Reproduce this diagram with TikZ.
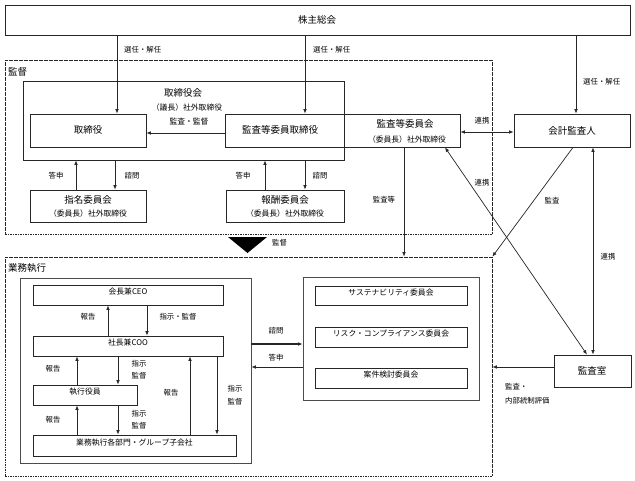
\documentclass[tikz,border=0pt]{standalone}
\usepackage{fontspec}
\setmainfont{Noto Sans CJK JP}
\usetikzlibrary{arrows.meta,fit}
\begin{document}
\begin{tikzpicture}[x=1pt,y=-1pt,
  box/.style={draw=black!85,line width=0.8pt,inner sep=0pt},
  dbox/.style={draw=black!85,line width=0.7pt,dash pattern=on 1.6pt off 0.9pt,inner sep=0pt},
  arr/.style={draw=black!85,line width=0.7pt,-{Latex[length=4.5pt,width=3.6pt]}},
  darr/.style={draw=black!85,line width=0.7pt,{Latex[length=4.5pt,width=3.6pt]}-{Latex[length=4.5pt,width=3.6pt]}},
  tl/.style={font=\fontsize{9.5}{11}\selectfont,inner sep=0pt},
  tm/.style={font=\fontsize{7.8}{9}\selectfont,inner sep=0pt},
  ts/.style={font=\fontsize{7.4}{8}\selectfont,inner sep=0pt},
]
\useasboundingbox[fill=white] (0,0) rectangle (635,480);

% dashed regions
\node[dbox,fit={(5,60) (492,234)}] (kantoku) {};
\node[tl,anchor=west] (kantokuL) at (8,72) {監督};
\node[dbox,fit={(5,257) (492,476)}] (gym) {};
\node[tl,anchor=west] (gymL) at (8,268) {業務執行};

% top
\node[box,fit={(5,5) (630,35)},tl] (sh) {};
\node[tl] (shT) at (317,20) {株主総会};

% board
\node[box,fit={(23,81) (344,160)}] (tbk) {};
\node[tl] (tbkT1) at (183,93) {取締役会};
\node[tm] (tbkT2) at (187,108) {（議長）社外取締役};
\node[tm] (tbkT3) at (189,122) {監査・監督};

\node[box,fit={(30,114) (146,147)}] (tsy) {};
\node[tl] (tsyT) at (88,130) {取締役};
\node[box,fit={(225,114) (344,147)}] (ktt) {};
\node[tl] (kttT) at (280,130) {監査等委員取締役};
\node[box,fit={(344,114) (460,147)}] (kti) {};
\node[tl] (ktiT1) at (405,124) {監査等委員会};
\node[tm] (ktiT2) at (407,140) {（委員長）社外取締役};
\node[box,fit={(514,114) (630,147)}] (kks) {};
\node[tl] (kksT) at (572,131) {会計監査人};

\node[box,fit={(30,190) (146,222)}] (sm) {};
\node[tl] (smT1) at (88,200) {指名委員会};
\node[tm] (smT2) at (88,214) {（委員長）社外取締役};
\node[box,fit={(226,190) (344,222)}] (hs) {};
\node[tl] (hsT1) at (285,200) {報酬委員会};
\node[tm] (hsT2) at (285,214) {（委員長）社外取締役};

% 監査室
\node[box,fit={(554,355) (631,387)}] (ksh) {};
\node[tl] (kshT) at (592,371) {監査室};

% triangle
\fill[black] (228,237) -- (267,237) -- (247.5,253) -- cycle;
\node[ts,anchor=west] (triL) at (272,243) {監督};

% 業務執行 inner
\node[box,draw=black!70,fit={(20,278) (251,463)}] (inL) {};
\node[box,fit={(33,285) (223,305)},tm] (ceo) {会長兼CEO};
\node[box,fit={(33,336) (223,356)},tm] (coo) {社長兼COO};
\node[box,fit={(33,385) (137,405)},tm] (sy) {執行役員};
\node[box,fit={(33,435) (236,456)},tm] (bm) {業務執行各部門・グループ子会社};

\node[box,draw=black!70,fit={(303,277) (479,400)}] (inR) {};
\node[box,fit={(315,286) (467,305)},tm] (c1) {サステナビリティ委員会};
\node[box,fit={(315,327) (467,347)},tm] (c2) {リスク・コンプライアンス委員会};
\node[box,fit={(315,368) (467,388)},tm] (c3) {案件検討委員会};

% arrows from 株主総会
\draw[arr] (117,0 |- sh.south) -- (117,0 |- tsy.north);
\draw[arr] (305,0 |- sh.south) -- (305,0 |- ktt.north);
\draw[arr] (576,0 |- sh.south) -- (576,0 |- kks.north);
\node[ts,anchor=west] (l1) at (124,50) {選任・解任};
\node[ts,anchor=west] (l2) at (313,50) {選任・解任};
\node[ts,anchor=west] (l3) at (583,82) {選任・解任};

% board internal
\draw[arr] (ktt.west |- 0,133) -- (tsy.east |- 0,133);
\draw[arr] (76,0 |- sm.north) -- (76,0 |- tbk.south);
\draw[arr] (115,0 |- tbk.south) -- (115,0 |- sm.north);
\node[ts] (a1) at (56,176) {答申};
\node[ts] (a2) at (132,176) {諮問};
\draw[arr] (265,0 |- hs.north) -- (265,0 |- tbk.south);
\draw[arr] (305,0 |- tbk.south) -- (305,0 |- hs.north);
\node[ts] (a3) at (243,176) {答申};
\node[ts] (a4) at (320,176) {諮問};

% right side
\draw[darr] (kti.east |- 0,132) -- (kks.west |- 0,132);
\node[ts] (r1) at (482,121) {連携};
\draw[arr] (404,0 |- kti.south) -- (404,0 |- gym.north);
\node[ts] (r2) at (384,200) {監査等};
\draw[darr] (445,0 |- kti.south) -- (587,0 |- ksh.north);
\node[ts] (r3) at (482,183) {連携};
\draw[arr] (573,0 |- kks.south) -- (gym.north east);
\node[ts] (r4) at (552,201) {監査};
\draw[darr] (593,0 |- kks.south) -- (593,0 |- ksh.north);
\node[ts] (r5) at (608,257) {連携};
\draw[arr] (ksh.west |- 0,367) -- (gym.east |- 0,367);
\node[ts,anchor=west] (r6) at (505,387) {監査・};
\node[ts,anchor=west] (r7) at (505,401) {内部統制評価};

% 業務執行 arrows
\draw[arr] (108,0 |- coo.north) -- (108,0 |- ceo.south);
\draw[arr] (147,0 |- ceo.south) -- (147,0 |- coo.north);
\node[ts] (e1) at (88,317) {報告};
\node[ts] (e2) at (178,317) {指示・監督};
\draw[arr] (77,0 |- sy.north) -- (77,0 |- coo.south);
\draw[arr] (118,0 |- coo.south) -- (118,0 |- sy.north);
\node[ts] (e3) at (53,369) {報告};
\node[ts] (e4) at (139,364) {指示};
\node[ts] (e5) at (139,376) {監督};
\draw[arr] (77,0 |- bm.north) -- (77,0 |- sy.south);
\draw[arr] (118,0 |- sy.south) -- (118,0 |- bm.north);
\node[ts] (e6) at (53,420) {報告};
\node[ts] (e7) at (139,414) {指示};
\node[ts] (e8) at (139,426) {監督};
\draw[arr] (190,0 |- bm.north) -- (190,0 |- coo.south);
\draw[arr] (217,0 |- coo.south) -- (217,0 |- bm.north);
\node[ts] (e9) at (171,393) {報告};
\node[ts] (e10) at (235,389) {指示};
\node[ts] (e11) at (235,402) {監督};
\draw[arr,line width=1.1pt] (inL.east |- 0,344) -- (inR.west |- 0,344);
\node[ts] (e12) at (276,331) {諮問};
\draw[arr] (inR.west |- 0,367) -- (inL.east |- 0,367);
\node[ts] (e13) at (276,358) {答申};
\end{tikzpicture}
\end{document}
